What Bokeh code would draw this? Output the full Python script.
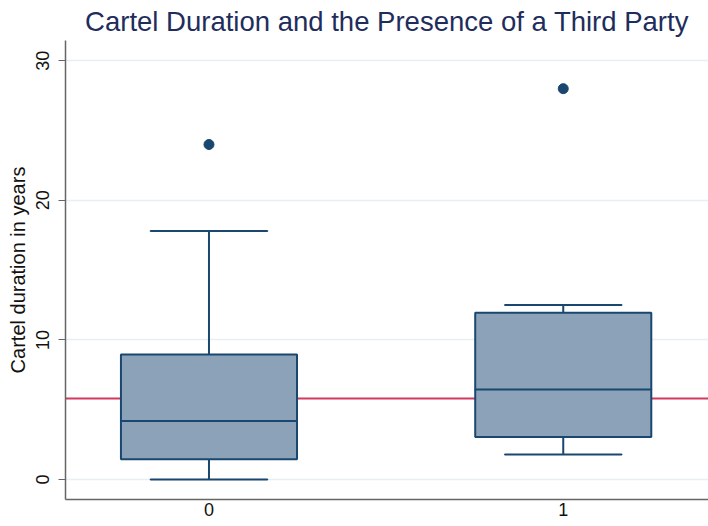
from bokeh.plotting import figure
from bokeh.models import ColumnDataSource, Range1d, FixedTicker
from bokeh.embed import file_html
from bokeh.resources import INLINE

# data
groups = [0, 1]
group_labels = ["0", "1"]
q1 = [1.45, 3.05]
median = [4.2, 6.45]
q3 = [8.95, 11.95]
lower_whisker = [0.0, 1.8]
upper_whisker = [17.8, 12.5]
outlier_x = [0, 1]
outlier_y = [24.0, 28.0]
mean_line = 5.8
y_ticks = [0, 10, 20, 30]

NAVY = "#1a476f"
FILL = "#8ba2b8"

p = figure(width=708, height=526, output_backend="svg", toolbar_location=None,
           x_range=Range1d(-0.405, 1.41), y_range=Range1d(-1.43, 31.45),
           title="Cartel Duration and the Presence of a Third Party",
           min_border_left=65, min_border_right=0, min_border_top=40, min_border_bottom=27)

p.title.text_font = "Liberation Sans"
p.title.text_font_size = "27.5px"
p.title.text_font_style = "normal"
p.title.text_color = "#1e2d5c"
p.title.align = "center"
p.title.offset = 0
p.title.standoff = 7

p.outline_line_color = None
p.background_fill_color = "white"
p.border_fill_color = "white"

p.xgrid.grid_line_color = None
p.ygrid.grid_line_color = "#e6eff1"
p.ygrid.grid_line_width = 1.5

p.yaxis.ticker = FixedTicker(ticks=y_ticks)
p.yaxis.major_label_orientation = "vertical"
p.yaxis.axis_label = "Cartel duration in years"
p.yaxis.axis_label_text_font = "Liberation Sans"
p.yaxis.axis_label_text_font_size = "20px"
p.yaxis.axis_label_text_font_style = "normal"
p.yaxis.axis_label_text_color = "#111111"
p.yaxis.axis_label_standoff = 5
p.yaxis.major_label_text_font = "Liberation Sans"
p.yaxis.major_label_text_font_size = "18px"
p.yaxis.major_label_text_color = "#111111"
p.yaxis.major_label_standoff = 9
p.yaxis.major_tick_in = 0
p.yaxis.major_tick_out = 7
p.yaxis.minor_tick_line_color = None
p.yaxis.axis_line_color = "#666666"
p.yaxis.axis_line_width = 1.5
p.yaxis.major_tick_line_color = "#666666"

p.xaxis.ticker = FixedTicker(ticks=groups)
p.xaxis.major_label_overrides = {g: l for g, l in zip(groups, group_labels)}
p.xaxis.major_label_text_font = "Liberation Sans"
p.xaxis.major_label_text_font_size = "18px"
p.xaxis.major_label_text_color = "#111111"
p.xaxis.major_label_standoff = 3
p.xaxis.major_tick_in = 0
p.xaxis.major_tick_out = 0
p.xaxis.major_tick_line_color = None
p.xaxis.minor_tick_line_color = None
p.xaxis.axis_line_color = "#666666"
p.xaxis.axis_line_width = 1.5

# red reference line (drawn beneath the boxes)
p.hspan(y=[mean_line], line_color="#d2395f", line_width=2)

src = ColumnDataSource(dict(x=groups, q1=q1, med=median, q3=q3,
                            lw=lower_whisker, uw=upper_whisker))

# whiskers
p.segment(x0="x", y0="q3", x1="x", y1="uw", source=src, line_color=NAVY, line_width=2)
p.segment(x0="x", y0="lw", x1="x", y1="q1", source=src, line_color=NAVY, line_width=2)
# caps
p.rect(x="x", y="uw", width=0.33, height=0.0001, source=src, line_color=NAVY, line_width=2, fill_color=None)
p.rect(x="x", y="lw", width=0.33, height=0.0001, source=src, line_color=NAVY, line_width=2, fill_color=None)
# boxes
p.vbar(x="x", width=0.497, bottom="q1", top="q3", source=src,
       fill_color=FILL, line_color=NAVY, line_width=2)
# medians
p.rect(x="x", y="med", width=0.497, height=0.0001, source=src, line_color=NAVY, line_width=2, fill_color=None)

# outliers
p.scatter(x=outlier_x, y=outlier_y, size=10, color=NAVY)

open("out.html", "w").write(file_html(p, INLINE))
